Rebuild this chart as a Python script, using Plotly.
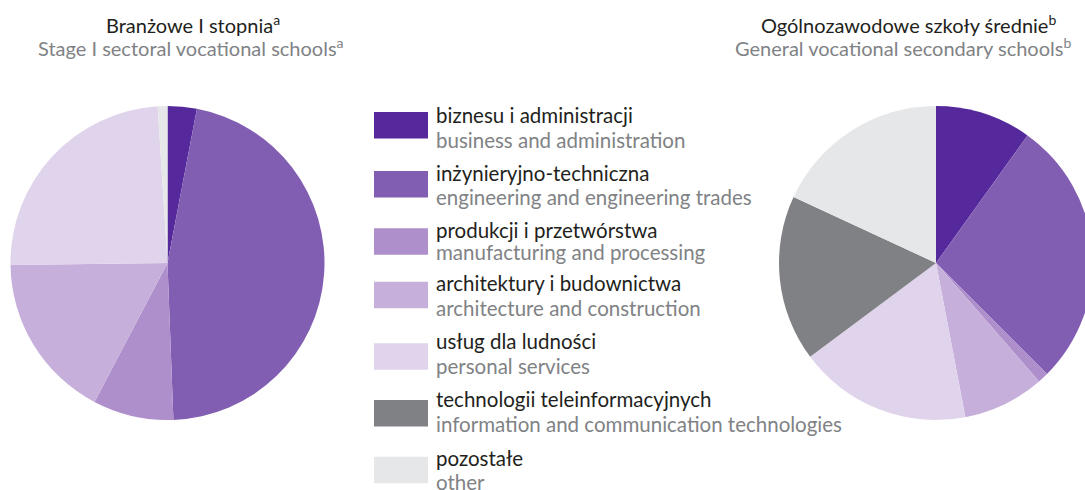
import plotly.graph_objects as go

# Categories (Polish / English)
cat_pl = ["biznesu i administracji", "inżynieryjno-techniczna", "produkcji i przetwórstwa",
          "architektury i budownictwa", "usług dla ludności", "technologii teleinformacyjnych",
          "pozostałe"]
cat_en = ["business and administration", "engineering and engineering trades",
          "manufacturing and processing", "architecture and construction",
          "personal services", "information and communication technologies", "other"]
colors = ["#55299b", "#825eb3", "#ae8fcc", "#c6b0db", "#e0d3ec", "#808184", "#e6e7e9"]

# Shares (%)
sectoral_stage1 = [3.0, 46.4, 8.3, 17.1, 24.2, 0.0, 1.0]
general_vocational = [9.9, 27.6, 1.1, 8.4, 17.8, 17.1, 18.1]

# Layout constants (pixels from top) for the hand-made legend
swatch_top = [112, 171, 228.3, 281.7, 343.3, 400, 456.7]
pl_baseline = [120.7, 179.3, 236, 289.3, 346.7, 405, 464]
en_baseline = [146, 203.3, 258.3, 314, 371.7, 430, 487.7]

W, H = 1100, 490
FONT = "Lato"
DARK = "#231f20"
GRAY = "#808285"
LSIZE = 20.5

def dom_x(cx, r):
    return [(cx - r) / W, (cx + r) / W]

def dom_y(cy, r):
    return [(H - cy - r) / H, (H - cy + r) / H]

def py(v):
    return 1 - v / H

fig = go.Figure()
for vals, cx in [(sectoral_stage1, 167.5), (general_vocational, 936)]:
    fig.add_trace(go.Pie(
        labels=cat_en, values=vals, sort=False, direction="clockwise", rotation=0,
        marker=dict(colors=colors, line=dict(width=0)), textinfo="none",
        showlegend=False, hoverinfo="label+percent",
        domain=dict(x=dom_x(cx, 157), y=dom_y(263, 157)),
    ))

annotations = []
# Titles
for cx1, cx2, pl, en, sup in [(193, 191, "Branżowe I stopnia", "Stage I sectoral vocational schools", "a"),
                              (908, 903, "Ogólnozawodowe szkoły średnie", "General vocational secondary schools", "b")]:
    annotations.append(dict(x=cx1 / W, y=py(23.5), xref="paper", yref="paper",
                            text=f"{pl}<sup>{sup}</sup>", showarrow=False,
                            font=dict(family=FONT, size=20, color=DARK),
                            xanchor="center", yanchor="middle"))
    annotations.append(dict(x=cx2 / W, y=py(47), xref="paper", yref="paper",
                            text=f"{en}<sup>{sup}</sup>", showarrow=False,
                            font=dict(family=FONT, size=20, color=GRAY),
                            xanchor="center", yanchor="middle"))

# Manual legend
shapes = []
off = 0.39 * LSIZE - 2
for pl, en, c, t, bp, be in zip(cat_pl, cat_en, colors, swatch_top, pl_baseline, en_baseline):
    shapes.append(dict(type="rect", xref="paper", yref="paper",
                       x0=374 / W, x1=428 / W, y0=py(t + 26.5), y1=py(t),
                       fillcolor=c, line=dict(width=0)))
    annotations.append(dict(x=434 / W, y=py(bp - off), xref="paper", yref="paper",
                            text=pl, showarrow=False, xanchor="left", yanchor="middle",
                            font=dict(family=FONT, size=LSIZE, color=DARK)))
    annotations.append(dict(x=434 / W, y=py(be - off), xref="paper", yref="paper",
                            text=en, showarrow=False, xanchor="left", yanchor="middle",
                            font=dict(family=FONT, size=LSIZE, color=GRAY)))

fig.update_layout(width=W, height=H, margin=dict(l=0, r=0, t=0, b=0),
                  paper_bgcolor="white", plot_bgcolor="white",
                  annotations=annotations, shapes=shapes)

fig.write_html("out.html", config={"displayModeBar": False},
               post_script="document.body.style.margin='0';document.body.style.overflow='hidden';")
